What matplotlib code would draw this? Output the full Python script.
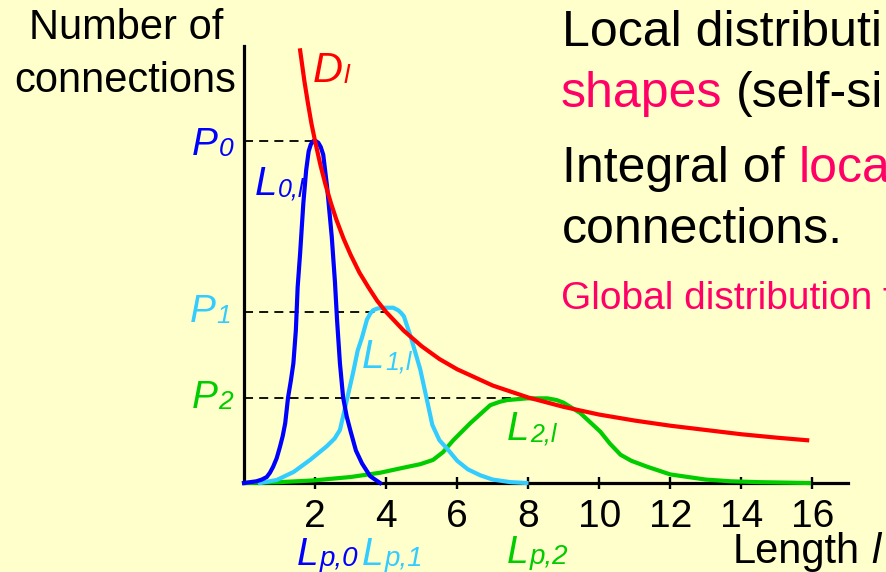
import matplotlib
matplotlib.use("Agg")
import matplotlib.pyplot as plt

plt.rcParams['font.family'] = ['Liberation Sans', 'DejaVu Sans']

# ---------------- data ----------------
# global distribution D_l
d_x = [1.58, 1.7, 1.8, 1.9, 2.0, 2.15, 2.3, 2.45, 2.6, 2.8, 3.0, 3.25, 3.5, 3.75, 4.0,
       4.5, 5.0, 5.5, 6.0, 7.0, 8.0, 9.0, 10.0, 11.0, 12.0, 13.0, 14.0, 15.0, 15.85]
d_y = [5.06, 4.70, 4.44, 4.20, 4.00, 3.72, 3.48, 3.27, 3.08, 2.86, 2.67, 2.46, 2.29, 2.13, 2.00,
       1.78, 1.60, 1.45, 1.33, 1.14, 1.00, 0.89, 0.80, 0.73, 0.67, 0.62, 0.57, 0.53, 0.50]

# local distribution L_0,l
l0_x = [0, 0.35, 0.5, 0.64, 0.73, 0.82, 0.92, 1.01, 1.09, 1.16, 1.24, 1.32, 1.39, 1.46, 1.51,
        1.58, 1.67, 1.75, 1.82, 1.88, 1.95, 2.02, 2.09, 2.16, 2.23, 2.34, 2.47, 2.56, 2.62,
        2.70, 2.79, 2.89, 2.99, 3.15, 3.32, 3.55, 3.83]
l0_y = [0, 0.02, 0.04, 0.07, 0.12, 0.19, 0.29, 0.42, 0.55, 0.70, 1.00, 1.20, 1.40, 1.79, 2.29,
        2.69, 3.27, 3.66, 3.88, 3.96, 4.00, 4.00, 3.98, 3.93, 3.84, 3.46, 2.88, 2.35, 1.90,
        1.40, 1.00, 0.78, 0.62, 0.38, 0.23, 0.08, 0.0]

# local distribution L_1,l
l1_x = [0.45, 0.92, 1.4, 1.86, 2.33, 2.55, 2.70, 2.85, 3.07, 3.20, 3.32, 3.46, 3.55, 3.63,
        3.75, 3.90, 4.20, 4.34, 4.42, 4.50, 4.70, 4.96, 5.15, 5.30, 5.50, 5.72, 6.00, 6.30,
        6.65, 7.00, 7.50, 7.95]
l1_y = [0.0, 0.035, 0.13, 0.27, 0.43, 0.52, 0.62, 0.89, 1.29, 1.55, 1.70, 1.91, 1.98, 2.02,
        2.04, 2.05, 2.05, 2.02, 1.99, 1.95, 1.70, 1.33, 0.97, 0.68, 0.50, 0.40, 0.26, 0.16,
        0.09, 0.04, 0.01, 0.0]

# local distribution L_2,l
l2_x = [0, 1.0, 1.95, 3.0, 3.83, 4.5, 4.96, 5.32, 5.6, 5.89, 6.37, 6.93, 7.2, 7.41, 7.97,
        8.54, 8.8, 8.99, 9.46, 10.03, 10.3, 10.6, 10.9, 11.35, 12.0, 13.0, 13.7, 14.5, 15.9]
l2_y = [0, 0.01, 0.03, 0.07, 0.12, 0.18, 0.22, 0.27, 0.36, 0.50, 0.70, 0.91, 0.95, 0.97, 0.99,
        0.99, 0.97, 0.94, 0.82, 0.60, 0.46, 0.33, 0.26, 0.19, 0.10, 0.04, 0.02, 0.01, 0.0]

# peak levels P0, P1, P2 and peak positions
peak_x = [2, 4, 8]
peak_y = [4, 2, 1]

x_ticks = [2, 4, 6, 8, 10, 12, 14, 16]
x_tick_labels = ["2", "4", "6", "8", "10", "12", "14", "16"]

# ---------------- styling ----------------
W, H = 886, 572
BG = '#FFFFCC'
BLUE = '#0000FF'
CYAN = '#33CCFF'
GREEN = '#00CC00'
RED = '#FF0000'
PINK = '#FF0066'

fig = plt.figure(figsize=(W / 100, H / 100), dpi=100, facecolor=BG)
ax = fig.add_axes([244 / W, 89 / H, 604 / W, 437 / H])
ax.set_facecolor('none')
ax.set_xlim(0, 17)
ax.set_ylim(0, 437 / 85.5)

for s in ['top', 'right']:
    ax.spines[s].set_visible(False)
for s in ['left', 'bottom']:
    ax.spines[s].set_linewidth(2.3)
    ax.spines[s].set_color('black')

ax.set_yticks([])
ax.set_xticks(x_ticks)
ax.set_xticklabels(x_tick_labels, fontsize=28)
ax.tick_params(axis='x', direction='inout', length=8.6, width=1.7, pad=7, colors='black')

# dashed guide lines
for px_, py_ in zip(peak_x, peak_y):
    ax.plot([0, px_], [py_, py_], color='black', lw=1.3, dashes=(5.0, 3.4), zorder=2)

lw = 3.0
ax.plot(l2_x, l2_y, color=GREEN, lw=lw, clip_on=False, zorder=3, solid_joinstyle='round')
ax.plot(l1_x, l1_y, color=CYAN, lw=lw, clip_on=False, zorder=3, solid_joinstyle='round')
ax.plot(l0_x, l0_y, color=BLUE, lw=lw, clip_on=False, zorder=4, solid_joinstyle='round')
ax.plot(d_x, d_y, color=RED, lw=lw, clip_on=False, zorder=5, solid_joinstyle='round')


def fx(px):
    return px / W


def fy(py):
    return 1 - py / H


def sublabel(px, py, main, sub, color, size, subsize):
    t = fig.text(fx(px), fy(py), main, color=color, fontsize=size, style='italic',
                 ha='left', va='baseline')
    ax.annotate(sub, xy=(1, fy(py)), xycoords=(t, 'figure fraction'),
                xytext=(0.5, -1), textcoords='offset points',
                color=color, fontsize=subsize, style='italic', ha='left', va='baseline')
    return t


# y-axis title
fig.text(fx(126), fy(39), "Number of", fontsize=30, ha='center', va='baseline')
fig.text(fx(125), fy(92), "connections", fontsize=30, ha='center', va='baseline')

# peak labels
sublabel(192, 155, "P", "0", BLUE, 28, 19)
sublabel(190, 322, "P", "1", CYAN, 28, 19)
sublabel(192, 408, "P", "2", GREEN, 28, 19)

# curve labels
sublabel(313, 82, "D", "l", RED, 30, 19)
sublabel(255, 195, "L", "0,l", BLUE, 29, 18)
sublabel(362, 368, "L", "1,l", CYAN, 29, 18)
sublabel(507, 440, "L", "2,l", GREEN, 29, 18)

# peak position labels
sublabel(297, 565, "L", "p,0", BLUE, 28, 20)
sublabel(362, 565, "L", "p,1", CYAN, 28, 20)
sublabel(507, 563, "L", "p,2", GREEN, 28, 20)

# x-axis title
t_len = fig.text(fx(733), fy(563), "Length", fontsize=30, ha='left', va='baseline')
ax.annotate("l", xy=(1, fy(563)), xycoords=(t_len, 'figure fraction'),
            xytext=(0.278 * 30, 0), textcoords='offset points',
            fontsize=30, style='italic', ha='left', va='baseline')

# right-hand text (cut by the figure edge as in the reference)
BIG = 36
fig.text(fx(562), fy(46), "Local distributi", fontsize=BIG, ha='left', va='baseline')
t_sh = fig.text(fx(561), fy(107), "shapes", fontsize=BIG, color=PINK, ha='left', va='baseline')
ax.annotate("(self-si", xy=(1, fy(107)), xycoords=(t_sh, 'figure fraction'),
            xytext=(0.278 * BIG, 0), textcoords='offset points',
            fontsize=BIG, color='black', ha='left', va='baseline')
t_in = fig.text(fx(562), fy(182), "Integral of", fontsize=BIG, ha='left', va='baseline')
ax.annotate("loca", xy=(1, fy(182)), xycoords=(t_in, 'figure fraction'),
            xytext=(0.278 * BIG, 0), textcoords='offset points',
            fontsize=BIG, color=PINK, ha='left', va='baseline')
fig.text(fx(562), fy(243), "connections.", fontsize=BIG, ha='left', va='baseline')
fig.text(fx(561), fy(309), "Global distribution f", fontsize=28, color=PINK,
         ha='left', va='baseline')

fig.savefig("out.png", dpi=100, facecolor=BG)
